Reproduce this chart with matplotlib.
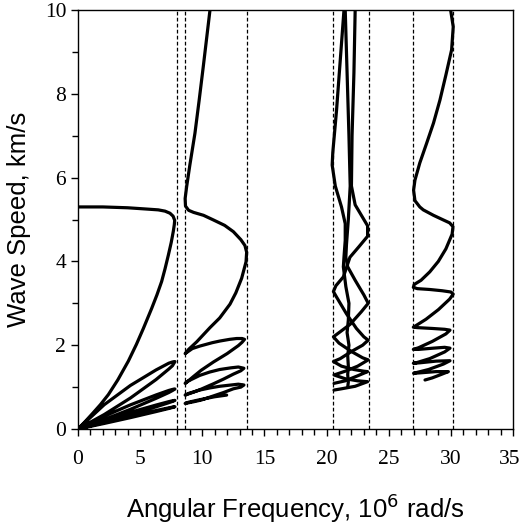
import matplotlib
matplotlib.use("Agg")
import matplotlib.pyplot as plt
import matplotlib.transforms as mtransforms
import numpy as np

# band edges (dashed lines), 10^6 rad/s
gap_lines = [7.97, 8.64, 13.57, 20.49, 23.43, 26.97, 30.18]

# band 1: fundamental branch + folded lenses
b1_x = [0, 2.0, 4.0, 5.5, 6.46, 7.0, 7.4, 7.65, 7.78, 7.75, 7.67, 7.5, 7.27, 7.0, 6.73, 6.35, 5.93, 5.26, 4.7, 4.05,
        3.2, 2.44, 1.8, 1.2, 0.6, 0,
        2.11, 4.22, 6.28, 7.3, 7.6, 7.8, 7.6, 7.3, 6.28, 4.22, 2.11, 0,
        2.11, 4.22, 6.28, 7.3, 7.6, 7.8, 7.6, 7.3, 6.28, 4.22, 2.11, 0,
        2.11, 4.22, 6.28, 7.3, 7.6, 7.8, 7.6, 7.3, 6.28, 4.22, 2.11, 0,
        2.11, 4.22, 6.28, 7.3, 7.6, 7.8, 7.6, 7.3, 6.28, 4.22, 2.11, 0]
b1_y = [5.30, 5.30, 5.28, 5.25, 5.23, 5.20, 5.15, 5.08, 4.98, 4.88, 4.72, 4.45, 4.15, 3.82, 3.52, 3.2, 2.88, 2.40, 2.02, 1.62,
        1.17, 0.82, 0.58, 0.38, 0.185, 0,
        0.58, 1.04, 1.41, 1.57, 1.60, 1.61, 1.51, 1.43, 1.18, 0.74, 0.345, 0,
        0.305, 0.577, 0.813, 0.92, 0.945, 0.955, 0.918, 0.87, 0.732, 0.47, 0.225, 0,
        0.207, 0.399, 0.572, 0.653, 0.674, 0.684, 0.659, 0.627, 0.53, 0.345, 0.167, 0,
        0.157, 0.305, 0.441, 0.505, 0.523, 0.532, 0.514, 0.49, 0.416, 0.272, 0.133, 0]

# band 2
b2_x = [10.62, 10.3, 10.08, 9.75, 9.41, 9.0, 8.74, 8.62, 8.65, 8.9, 9.3, 10.1, 10.89, 11.8, 12.5, 13.1, 13.43, 13.57,
        13.52, 13.17, 12.7, 12.23, 11.4, 10.62, 9.55, 8.9, 8.62,
        9.2, 9.81, 10.8, 11.42, 12.2, 12.77, 13.2, 13.4,
        13.2, 12.9, 12.0, 10.9, 9.9, 9.28, 8.8, 8.62,
        8.9, 9.8, 10.6, 11.4, 12.3, 12.9, 13.35,
        13.1, 12.5, 11.7, 10.9, 9.9, 9.3, 8.62,
        8.9, 9.8, 10.6, 11.4, 12.3, 12.9, 13.35,
        13.1, 12.5, 11.7, 10.9, 9.9, 9.3, 8.62,
        8.9, 9.8, 11.0, 11.96]
b2_y = [10.0, 9.2, 8.65, 7.85, 7.06, 6.3, 5.78, 5.5, 5.32, 5.22, 5.17, 5.1, 4.99, 4.86, 4.71, 4.52, 4.38, 4.22,
        3.99, 3.6, 3.25, 2.98, 2.65, 2.42, 2.08, 1.9, 1.8,
        1.92, 1.98, 2.06, 2.1, 2.14, 2.16, 2.16, 2.14,
        2.07, 1.99, 1.8, 1.6, 1.4, 1.25, 1.13, 1.09,
        1.15, 1.28, 1.36, 1.42, 1.46, 1.48, 1.45,
        1.39, 1.31, 1.19, 1.08, 0.95, 0.88, 0.81,
        0.85, 0.93, 0.98, 1.02, 1.05, 1.07, 1.05,
        1.0, 0.96, 0.87, 0.79, 0.69, 0.65, 0.61,
        0.64, 0.7, 0.77, 0.81]

# band 3 (three strands)
b3a_x = [21.4, 21.1, 20.8, 20.5, 20.45, 20.7, 21.2, 21.5, 21.5, 21.4, 21.35, 21.55, 21.8, 21.75, 21.65, 21.8, 21.7,
         21.75, 21.7, 21.75, 21.7]
b3a_y = [10.0, 8.8, 7.6, 6.6, 6.3, 5.8, 5.3, 4.9, 4.5, 4.1, 3.87, 3.4, 3.0, 2.6, 2.3, 2.0, 1.75, 1.5, 1.3, 1.12, 1.0]
b3b_x = [21.5, 21.65, 21.8, 21.9, 21.75, 21.6, 21.55, 21.7, 22.3, 23.0, 23.35, 22.8, 21.9, 21.0, 20.55, 21.0, 22.0,
         22.9, 23.35, 22.5, 21.5, 20.6, 21.5, 22.5, 23.3, 22.3, 21.2, 20.6]
b3b_y = [10.0, 8.5, 7.0, 5.8, 5.0, 4.4, 4.1, 3.87, 3.55, 3.2, 3.0, 2.8, 2.5, 2.3, 2.2, 2.05, 1.85,
         1.7, 1.65, 1.5, 1.38, 1.29, 1.2, 1.15, 1.13, 1.02, 0.96, 0.93]
b3c_x = [22.3, 22.2, 22.05, 22.0, 22.3, 22.9, 23.3, 23.3, 22.6, 21.88, 21.35, 20.75, 20.55, 20.8, 21.6, 22.4, 23.0,
         23.35, 22.9, 22.0, 21.1, 20.55, 21.2, 22.2, 23.0, 23.3, 22.5, 21.5, 20.6]
b3c_y = [10.0, 8.5, 7.0, 5.8, 5.35, 5.05, 4.85, 4.6, 4.35, 4.1, 3.63, 3.42, 3.28, 3.15, 2.75, 2.4, 2.2,
         2.12, 2.0, 1.85, 1.68, 1.61, 1.5, 1.42, 1.38, 1.37, 1.27, 1.15, 1.09]

# band 4
b4_x = [29.98, 30.19, 30.06, 29.6, 29.12, 28.6, 28.05, 27.5, 27.11, 27.0, 27.11, 27.5, 27.78, 28.6, 29.39, 29.9, 30.17,
        30.1, 29.6, 28.99, 28.3, 27.6, 27.05, 26.98, 27.3, 28.3, 29.3, 30.0, 30.19,
        29.9, 29.0, 28.0, 27.2, 26.98, 27.3, 28.5, 29.5, 29.93,
        29.6, 28.5, 27.4, 26.98, 27.4, 28.6, 29.5, 29.93,
        29.5, 28.3, 27.2, 26.98, 27.5, 28.8, 29.93,
        29.4, 28.2, 27.0, 27.5, 28.8, 29.8, 29.2, 28.5, 27.92]
b4_y = [10.0, 9.6, 9.05, 8.45, 7.85, 7.3, 6.82, 6.35, 5.94, 5.7, 5.45, 5.3, 5.23, 5.1, 4.99, 4.92, 4.83,
        4.65, 4.3, 4.0, 3.75, 3.55, 3.45, 3.38, 3.35, 3.33, 3.3, 3.27, 3.22,
        3.1, 2.85, 2.62, 2.47, 2.43, 2.42, 2.4, 2.38, 2.36,
        2.27, 2.09, 1.94, 1.9, 1.9, 1.93, 1.95, 1.93,
        1.84, 1.68, 1.58, 1.57, 1.58, 1.62, 1.63,
        1.55, 1.42, 1.33, 1.34, 1.37, 1.37, 1.3, 1.22, 1.17]

fig = plt.figure(figsize=(5.22, 5.29), dpi=100)
ax = fig.add_axes([0.1494, 0.189, 0.8334, 0.7921])

for g in gap_lines:
    ax.plot([g, g], [0, 10], color='black', lw=0.9, dashes=(3.0, 1.8))

for xs, ys in [(b1_x, b1_y), (b2_x, b2_y), (b3a_x, b3a_y), (b3b_x, b3b_y), (b3c_x, b3c_y), (b4_x, b4_y)]:
    ax.plot(xs, ys, color='black', lw=2.3, solid_joinstyle='round', solid_capstyle='round')

ax.set_xlim(0, 35)
ax.set_ylim(0, 10)
ax.set_xticks(np.arange(0, 36, 5))
ax.set_xticks(np.arange(0, 36, 1), minor=True)
ax.set_yticks(np.arange(0, 11, 2))
ax.set_yticks(np.arange(0, 11, 1), minor=True)
ax.tick_params(which='both', direction='out', width=1.0, length=5, labelsize=15.5)
ax.tick_params(which='minor', length=4)
ax.tick_params(axis='x', pad=10)
for lab in ax.get_xticklabels() + ax.get_yticklabels():
    lab.set_fontfamily('Liberation Serif')
# keep the last x label inside the canvas
last = ax.get_xticklabels()[-1]
last.set_transform(last.get_transform() + mtransforms.ScaledTranslation(-3 / 100, 0, fig.dpi_scale_trans))
for s in ax.spines.values():
    s.set_linewidth(1.0)

ax.set_xlabel('Angular Frequency, 10$^6$ rad/s', fontfamily='Liberation Sans', fontsize=18.5, labelpad=16)
ax.set_ylabel('Wave Speed, km/s', fontfamily='Liberation Sans', fontsize=18.5, labelpad=10)

fig.savefig('out.png', dpi=100)
